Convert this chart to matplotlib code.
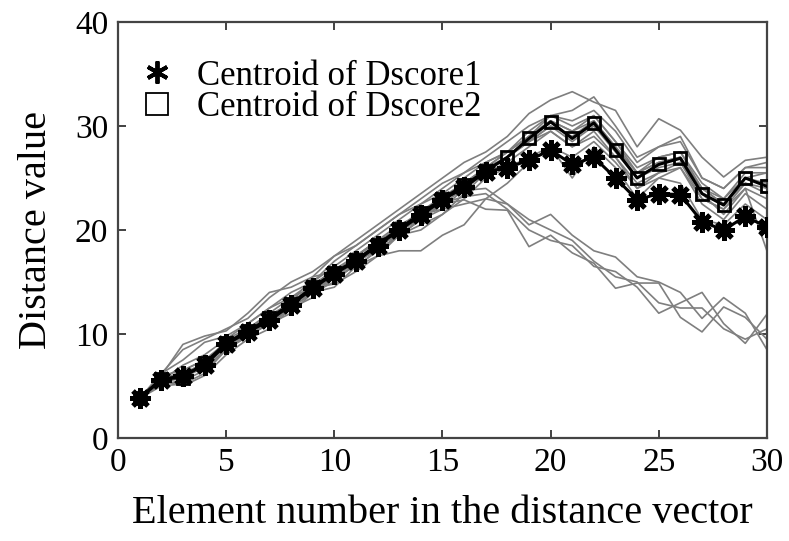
import matplotlib
matplotlib.use("Agg")
import matplotlib.pyplot as plt
from matplotlib.lines import Line2D

x = list(range(1, 31))

centroid1 = [3.8, 5.6, 6.0, 7.0, 9.0, 10.2, 11.3, 12.8, 14.4, 15.8, 17.0, 18.5, 20.0, 21.4, 22.9,
             24.1, 25.6, 26.0, 26.7, 27.7, 26.3, 27.0, 25.0, 22.9, 23.5, 23.4, 20.8, 20.0, 21.3, 20.3]
centroid2 = [3.8, 5.7, 5.8, 7.2, 9.1, 10.3, 11.5, 12.9, 14.5, 15.9, 17.1, 18.6, 20.1, 21.6, 23.0,
             24.3, 25.7, 27.0, 28.8, 30.4, 28.8, 30.3, 27.7, 25.0, 26.3, 26.9, 23.5, 22.4, 25.0, 24.2]

g1 = [3.8, 6.2, 8.5, 9.5, 10.5, 11.5, 13.5, 15, 16, 17.5, 19, 20.5, 22, 23.5, 25, 26.5, 27.5, 29, 31.2, 32.5, 33.3, 32.3, 31.5, 28, 30.7, 29.6, 27, 25.1, 26.7, 27]
g2 = [3.8, 6, 9, 9.8, 10.3, 12, 14, 14.5, 15.5, 17.5, 18.5, 20, 21.5, 22.5, 24, 25.5, 27, 28.5, 30, 31, 31.5, 32.8, 30, 27, 28, 29, 25, 24, 26, 26.5]
g3 = [3.8, 5.5, 7, 8, 9.5, 11, 12.5, 13.5, 15, 16.5, 18, 19.5, 21, 22.5, 23.5, 25, 26.5, 27.5, 29.5, 31, 30, 31, 28.5, 26, 27, 27.5, 24.5, 23, 25.5, 25.5]
g4 = [3.8, 5.2, 5.5, 6.5, 8.5, 9.8, 11, 12.5, 14, 15.5, 16.5, 18, 19.5, 21, 22.5, 24, 25.5, 27, 28.5, 30, 29, 30.5, 28, 25.5, 26.5, 27, 24, 22.5, 25, 24.5]
g5 = [3.8, 5, 5.2, 6.2, 8.5, 10, 11, 12, 14, 15, 16.8, 18.5, 19.5, 21, 23, 24, 25.5, 26.5, 28, 29.5, 28, 29.5, 27, 24.5, 25.5, 26.5, 23, 22, 24.5, 23.5]
g6 = [3.8, 5.5, 5, 6, 8, 9.5, 10.5, 12.5, 14.5, 14.8, 16, 17.5, 19.5, 20.5, 21.5, 23.5, 25.5, 27, 28.5, 30, 28.5, 30, 27.5, 25, 26, 26.5, 23.5, 21.5, 24, 23]
g7 = [3.8, 6, 6.5, 7.5, 9, 10.5, 11.5, 13, 15.5, 16, 17.5, 19, 20.5, 21.5, 22, 24, 26, 27.5, 29, 30.5, 29.5, 31, 28.5, 25.5, 27, 27.5, 24, 23, 25, 25.5]
g8 = [3.8, 5.8, 6, 7, 9.5, 10.5, 12, 13.5, 14.5, 16, 17.5, 19, 20, 21, 23, 24.5, 26, 27, 28.5, 29.5, 28, 29, 27, 24, 25, 26, 22.5, 21, 23.5, 22]
g9 = [3.8, 5.5, 6, 7, 8.8, 10, 11, 12.5, 14, 14.5, 16.5, 18, 19.5, 20, 21.5, 23, 25, 26, 27, 28, 25, 28, 26, 23, 25, 24.5, 21, 20.5, 22.5, 21]
g10 = [3.8, 5.3, 5.8, 6.8, 8.5, 9.8, 11, 12.5, 13.5, 15.5, 16.5, 17.5, 18, 18, 19.5, 20.5, 23, 24.5, 26.5, 28, 27, 28.5, 26.5, 24, 25.5, 26, 23, 22, 24, 18]
g11 = [3.8, 6.2, 7.5, 9.2, 9.8, 11, 12.5, 14, 15, 17, 18.5, 20, 21.5, 23, 24.5, 25.5, 26.5, 27.5, 29, 31, 30.5, 31.5, 29.5, 26.5, 28, 28.5, 25, 24, 26, 26]
g12 = [3.8, 5.5, 6.5, 7.5, 9.2, 10.5, 11.8, 13, 14.7, 16.2, 17.5, 18.8, 20.3, 21.8, 23.2, 24.5, 26, 27.5, 29, 30.5, 29.5, 30.5, 28, 25.5, 26.5, 27, 24, 22.5, 24.5, 24]
h1 = [3.8, 5.5, 6, 7, 9, 10, 11.5, 13, 14, 15.5, 17, 18, 19.5, 21, 22, 22.5, 23, 22.5, 20.5, 21.5, 19.5, 18, 17.4, 15.5, 15, 14, 11.5, 13.5, 12, 8.5]
h2 = [3.8, 5.7, 6.2, 7.2, 9, 10.2, 11.3, 13, 14.3, 16, 17, 18.5, 20, 21.5, 22.5, 22.9, 22.0, 21.9, 18.4, 19.5, 17.8, 16.8, 14.4, 14.9, 14.9, 11.6, 10.2, 12.6, 11.6, 9.5]
h3 = [3.8, 5.4, 5.9, 6.9, 8.8, 10.1, 11.2, 12.7, 14.2, 15.6, 16.8, 18.3, 19.8, 21.2, 22.6, 23.2, 23.5, 22, 20, 19, 18.5, 16.5, 16, 14.5, 12, 13, 14, 11, 9.1, 11.9]
h4 = [3.8, 5.6, 6.1, 7.1, 9.1, 10.3, 11.4, 12.9, 14.5, 15.9, 17.1, 18.6, 20.1, 21.5, 23, 23.8, 24, 22.5, 21, 20, 19, 17, 15.5, 15, 13, 12.5, 12.5, 10.5, 9.5, 10.5]

gray_lines = [g1, g2, g3, g4, g5, g6, g7, g8, g9, g10, g11, g12, h1, h2, h3, h4]

plt.rcParams['font.family'] = ['Liberation Serif', 'DejaVu Serif']

fig = plt.figure(figsize=(7.89, 5.41), dpi=100)
ax = fig.add_axes([0.1496, 0.1904, 0.8224, 0.7689])

for g in gray_lines:
    ax.plot(x, g, color='#7f7f7f', lw=1.2, zorder=2)

ax.plot(x, centroid2, color='black', lw=2.2, marker='s', markersize=9,
        markerfacecolor='none', markeredgecolor='black', markeredgewidth=2, zorder=4)
ax.plot(x, centroid1, color='black', lw=2.2, marker=(8, 2, 0), markersize=15,
        markeredgewidth=3.5, zorder=5)

ax.set_xlim(0, 30)
ax.set_ylim(0, 40)
ax.set_xticks([0, 5, 10, 15, 20, 25, 30])
ax.set_yticks([0, 10, 20, 30, 40])
ax.tick_params(direction='in', top=True, right=True, length=6, width=1.3,
               labelsize=24, colors='#333333', labelcolor='black', pad=7)
for s in ax.spines.values():
    s.set_linewidth(1.6)
    s.set_color('#444444')

ax.set_xlabel('Element number in the distance vector', fontsize=29, labelpad=12)
ax.set_ylabel('Distance value', fontsize=29, labelpad=14)

handles = [Line2D([], [], linestyle='none', marker=(6, 2, 0), markersize=16,
                  markeredgewidth=2.8, color='black'),
           Line2D([], [], linestyle='none', marker='s', markersize=16,
                  markerfacecolor='none', markeredgecolor='black', markeredgewidth=1.3)]
ax.legend(handles, ['Centroid of Dscore1', 'Centroid of Dscore2'], loc='upper left',
          bbox_to_anchor=(-0.02, 0.985), frameon=False, fontsize=25, handlelength=1.2,
          handletextpad=0.55, labelspacing=-0.05, borderaxespad=0.5)

fig.savefig('out.png', dpi=100)
